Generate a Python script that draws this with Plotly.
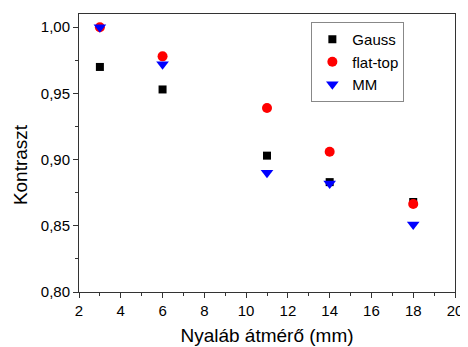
import plotly.graph_objects as go

diameter = [3, 6, 11, 14, 18]
gauss = [0.970, 0.953, 0.903, 0.883, 0.868]
flat_top = [1.000, 0.978, 0.939, 0.906, 0.8665]
mm = [1.000, 0.972, 0.890, 0.882, 0.851]

fig = go.Figure()
fig.add_trace(go.Scatter(x=diameter, y=gauss, mode="markers", name="Gauss",
                         marker=dict(symbol="square", size=8, color="black")))
fig.add_trace(go.Scatter(x=diameter, y=flat_top, mode="markers", name="flat-top",
                         marker=dict(symbol="circle", size=10, color="red")))
fig.add_trace(go.Scatter(x=diameter, y=mm, mode="markers", name="MM",
                         marker=dict(symbol="triangle-down", size=11, color="blue")))

axis_common = dict(showgrid=False, zeroline=False, showline=True, linecolor="#333",
                   linewidth=1, mirror=True, ticks="outside", ticklen=5, tickwidth=1,
                   tickcolor="#333", tickfont=dict(size=15, color="black"),
                   ticklabeloverflow="allow")

fig.update_xaxes(range=[2, 20], dtick=2,
                 title=dict(text="Nyaláb átmérő (mm)", font=dict(size=19), standoff=10),
                 minor=dict(ticks="outside", ticklen=3, dtick=1, tickcolor="#333"), **axis_common)
fig.update_yaxes(range=[0.80, 1.01], dtick=0.05, tickformat=".2f", tick0=0.8,
                 minor=dict(ticks="outside", ticklen=3, dtick=0.025, tickcolor="#333"), **axis_common)

fig.add_annotation(text="Kontraszt", xref="paper", yref="paper", x=-0.155, y=0.459,
                   xanchor="center", yanchor="middle", textangle=-90, showarrow=False,
                   font=dict(size=19, color="black"))

fig.update_layout(
    width=460, height=339,
    margin=dict(l=71, r=9, t=5, b=55),
    paper_bgcolor="white", plot_bgcolor="white",
    separators=", ",
    font=dict(family="Liberation Sans, Arial, sans-serif", color="black"),
    legend=dict(x=0.618, y=0.971, xanchor="left", yanchor="top",
                bordercolor="#888", borderwidth=1, bgcolor="white",
                font=dict(size=15), itemwidth=30, tracegroupgap=0),
    showlegend=True,
)

fig.write_html("out.html")
